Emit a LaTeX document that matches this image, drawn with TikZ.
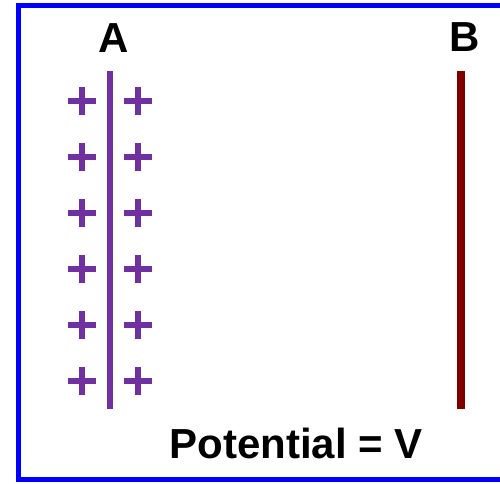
\documentclass[tikz,border=0pt]{standalone}
\usepackage{fontspec}
\setmainfont{Liberation Sans}
\definecolor{plateA}{HTML}{7030A0}
\definecolor{plateB}{HTML}{800000}
\begin{document}
\begin{tikzpicture}[x=1pt,y=-1pt,
  lbl/.style={font=\fontsize{42}{48}\selectfont\bfseries, inner sep=0pt, anchor=base},
  plus/.style={draw=plateA, line width=6pt},
  plateline/.style={line width=#1}]
\useasboundingbox (0,0) rectangle (500,483);
\draw[blue, line width=5pt] (18.5,5.5) rectangle (510,479.5);
\draw[plateA, line width=5.5pt] (110,71) -- (110,409);
\draw[plateB, line width=8pt] (461,71) -- (461,409);
\foreach \y in {101,157,213,269,325,381} {
  \foreach \x in {82,138} {
    \draw[plus] (\x-14,\y) -- (\x+14,\y);
    \draw[plus] (\x,\y-14) -- (\x,\y+14);
  }
}
\node[lbl] (A) at (114,52) {A};
\node[lbl] (B) at (465,51) {B};
\node[lbl] (pot) at (296,458) {Potential = V};
\end{tikzpicture}
\end{document}
